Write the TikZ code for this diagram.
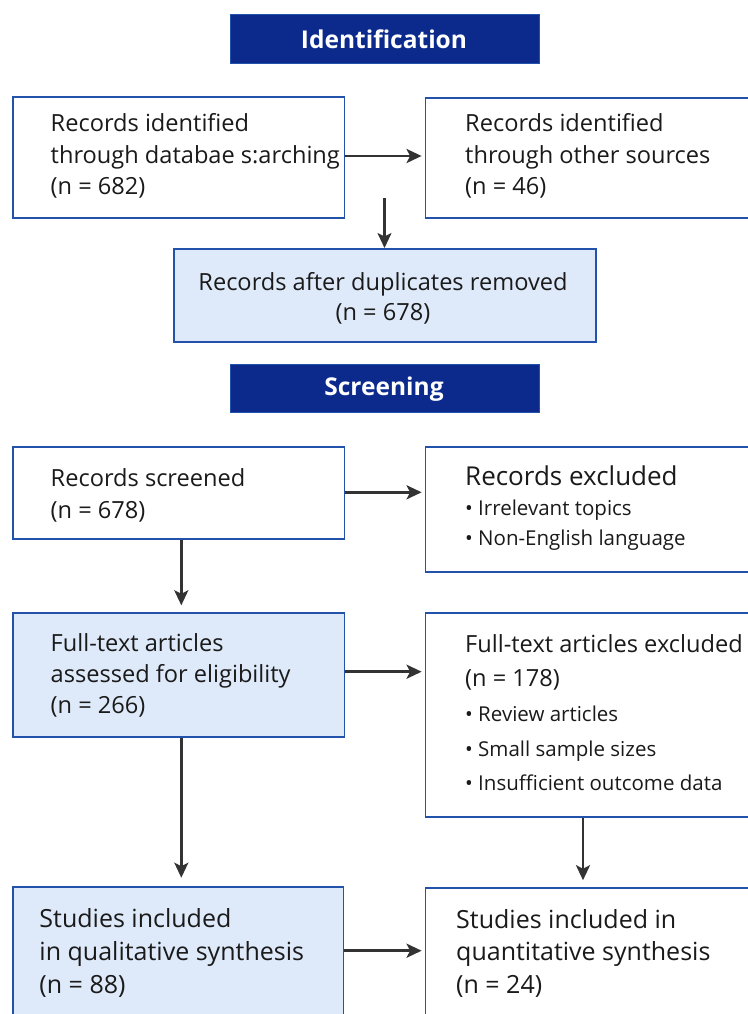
\documentclass[tikz,border=0pt]{standalone}
\usepackage{fontspec}
\setmainfont{Open Sans}
\usetikzlibrary{arrows.meta,calc}

\definecolor{navy}{HTML}{0B2A8C}
\definecolor{boxblue}{HTML}{2352AA}
\definecolor{paleblue}{HTML}{DEEAF9}
\definecolor{ink}{HTML}{1A1A1A}
\definecolor{arrowgray}{HTML}{333333}

\begin{document}
\begin{tikzpicture}[x=1bp,y=-1bp,
  stage/.style={draw=boxblue, line width=1.2bp, fill=navy, inner sep=0pt,
    anchor=north west, minimum width=309bp, minimum height=49bp},
  stagetext/.style={text=white, font=\bfseries\fontsize{24.5bp}{28bp}\selectfont,
    inner sep=0pt, anchor=base},
  plainbox/.style={draw=boxblue, line width=1.8bp, fill=white, inner sep=0pt, anchor=north west},
  shadedbox/.style={plainbox, fill=paleblue},
  body/.style={text=ink, inner sep=0pt, anchor=base west, align=left},
  lines/.style={font=\fontsize{23.6bp}{#1}\selectfont},
  biglines/.style={font=\fontsize{25bp}{#1}\selectfont},
  title/.style={body, font=\fontsize{26bp}{31bp}\selectfont},
  item/.style={text=ink, font=\fontsize{20.5bp}{24bp}\selectfont, inner sep=0pt, anchor=base west},
  flow/.style={draw=arrowgray, line width=2.4bp,
    -{Stealth[length=15bp,width=14bp,inset=3.5bp]}},
  sideflow/.style={flow, line width=2.8bp, shorten >=3bp}
]
\clip (0,0) rectangle (748,1014);
\fill[white] (0,0) rectangle (748,1014);

% Multi-line texts are anchored at the baseline of their last line.

% ---------- Identification ----------
\node[stage] (idhead) at (229.5,14) {};
\node[stagetext] (idlabel) at (384,48) {Identification};

\node[plainbox, minimum width=331.5bp, minimum height=121bp] (db) at (12,96) {};
\node[body, lines=31.5bp] (dbtext) at (50.5,194.5) {Records identified\\through databae s:arching\\(n = 682)};

\node[plainbox, minimum width=330bp, minimum height=120bp] (other) at (424.6,97) {};
\node[body, lines=31.5bp] (othertext) at (465,194.5) {Records identified\\through other sources\\(n = 46)};

\node[shadedbox, minimum width=422.4bp, minimum height=93bp] (dup) at (173,248) {};
\node[body, lines=30.5bp, anchor=base, align=center] (duptext) at (383,320.5)
  {Records after duplicates removed\\(n = 678)};

\coordinate (split) at (384.5,198);

% ---------- Screening ----------
\node[stage, minimum height=48bp] (scrhead) at (229.5,364) {};
\node[stagetext] (scrlabel) at (384,395) {Screening};

\node[plainbox, minimum width=331.5bp, minimum height=92bp] (screened) at (12,445.7) {};
\node[body, lines=31.3bp] (screenedtext) at (50.5,518) {Records screened\\(n = 678)};

\node[plainbox, minimum width=330bp, minimum height=125bp] (excl) at (424.6,445.7) {};
\node[title] (excltitle) at (465,485.3) {Records excluded};
\node[item] (excla) at (465,515.7) {• Irrelevant topics};
\node[item] (exclb) at (465,545) {• Non-English language};

\node[shadedbox, minimum width=331.5bp, minimum height=123.4bp] (full) at (12,612.3) {};
\node[body, lines=31bp] (fulltext) at (50.5,713.5) {Full-text articles\\assessed for eligibility\\(n = 266)};

\node[plainbox, minimum width=330bp, minimum height=203.7bp] (fexcl) at (424.6,612.3) {};
\node[body, lines=34bp] (fexcltitle) at (465,686.5) {Full-text articles excluded\\(n = 178)};
\node[item] (fexcla) at (465,721.7) {• Review articles};
\node[item] (fexclb) at (465,756) {• Small sample sizes};
\node[item] (fexclc) at (465,790) {• Insufficient outcome data};

\node[shadedbox, minimum width=330.5bp, minimum height=132bp] (qual) at (12,885.7) {};
\node[body, biglines=32.7bp] (qualtext) at (39.3,993) {Studies included\\in qualitative synthesis\\(n = 88)};

\node[plainbox, minimum width=330bp, minimum height=132bp] (quant) at (424.6,886.7) {};
\node[body, biglines=32.5bp] (quanttext) at (456,993) {Studies included in\\quantitative synthesis\\(n = 24)};

% ---------- connectors ----------
\draw[sideflow] (db.east |- 0,156) -- (other.west |- 0,156);
\draw[flow] (split) -- (split |- dup.north);
\draw[sideflow] (screened.east |- 0,492.3) -- (excl.west |- 0,492.3);
\draw[flow, shorten >=7bp] (screened.south -| 181.3,0) -- (full.north -| 181.3,0);
\draw[sideflow] (full.east |- 0,671.7) -- (fexcl.west |- 0,671.7);
\draw[flow, shorten >=8bp] (full.south -| 181.3,0) -- (qual.north -| 181.3,0);
\draw[flow, shorten >=6.5bp] (fexcl.south -| 583,0) -- (quant.north -| 583,0);
\draw[sideflow] (qual.east |- 0,950.7) -- (quant.west |- 0,950.7);
\end{tikzpicture}
\end{document}
